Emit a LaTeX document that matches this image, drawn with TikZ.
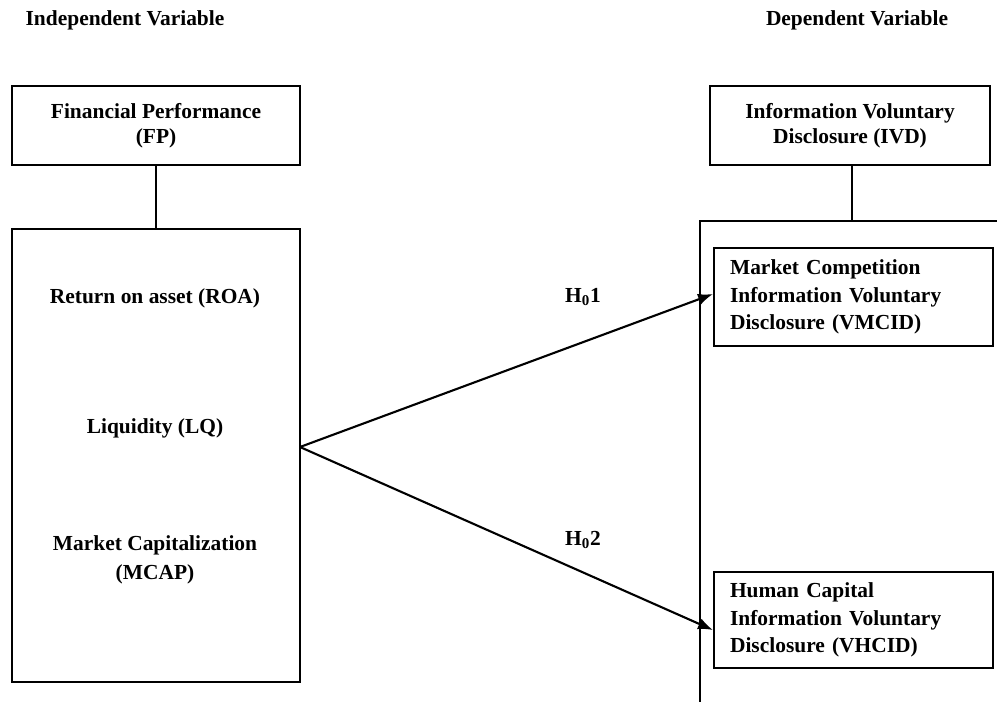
\documentclass[tikz,border=0pt]{standalone}
\usepackage{fontspec}
\setmainfont{Liberation Serif}
\usepackage{tikz}
\usetikzlibrary{arrows.meta, positioning, calc}
\tikzset{
  varbox/.style={rectangle, draw=black, line width=1.2pt, align=center,
    minimum width=5.76cm, minimum height=1.58cm, inner sep=2pt,
    font=\fontsize{12.2}{14}\selectfont\bfseries},
  subbox/.style={rectangle, draw=black, line width=1.2pt, align=left,
    text width=4.94cm, minimum height=1.96cm, inner xsep=0.32cm,
    font=\fontsize{12.2}{15.5}\selectfont\bfseries},
  plain/.style={align=center, font=\fontsize{12.2}{16.4}\selectfont\bfseries},
  arrow/.style={-{Latex[length=8.5pt, width=6.5pt]}, line width=1.2pt},
  line/.style={line width=1.2pt}
}

\begin{document}
\begin{tikzpicture}[x=0.02cm, y=-0.02cm]
  \clip (0,0) rectangle (997,701);
  \useasboundingbox (0,0) rectangle (997,701);
  % headings
  \node[plain] (indep) at (125,20) {Independent Variable};
  \node[plain] (dep) at (857,20) {Dependent Variable};

  % independent side
  \node[varbox] (fp) at (156,125.5) {Financial Performance\\(FP)};
  \node[varbox, minimum height=9.06cm] (lbox) at (156,455.5) {};
  \node[plain] (roa) at (155,298) {Return on asset (ROA)};
  \node[plain] (lq) at (155,428) {Liquidity (LQ)};
  \node[plain] (mcap) at (155,560) {Market Capitalization\\(MCAP)};
  \draw[line] (fp.south) -- (lbox.north -| fp.south);

  % dependent side
  \node[varbox, minimum width=5.6cm] (ivd) at (850,125.5) {Information Voluntary\\Disclosure (IVD)};
  \node[rectangle, draw=black, line width=1.2pt, minimum width=6.2cm, minimum height=9.96cm] (rbox) at (855,470) {};
  \draw[line] (852,165) -- (852,221);
  \node[subbox] (vmcid) at (853.5,297) {Market Competition\\Information Voluntary\\Disclosure (VMCID)};
  \node[subbox, minimum height=1.92cm] (vhcid) at (853.5,620) {Human Capital\\Information Voluntary\\Disclosure (VHCID)};

  % hypotheses
  \coordinate (src) at (300,447);
  \draw[arrow] (src) -- ([yshift=0.06cm]vmcid.west);
  \draw[arrow] (src) -- ([yshift=-0.2cm]vhcid.west);
  \node[plain] (h1) at (583,297) {H\textsubscript{0}1};
  \node[plain] (h2) at (583,540) {H\textsubscript{0}2};
\end{tikzpicture}
\end{document}
